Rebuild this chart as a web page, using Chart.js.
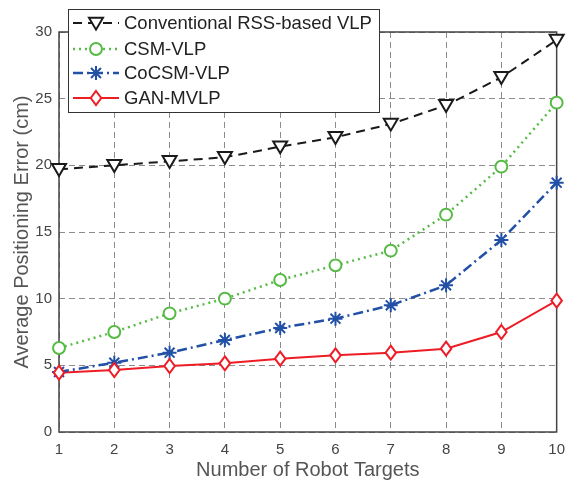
<!DOCTYPE html>
<html>
<head>
<meta charset="utf-8">
<script src="https://cdn.jsdelivr.net/npm/chart.js@4.4.1/dist/chart.umd.min.js"></script>
<style>
  html, body { margin: 0; padding: 0; background: #fff; }
  #wrap { width: 574px; height: 482px; position: relative; }
</style>
</head>
<body>
<div id="wrap"><canvas id="errChart"></canvas></div>
<script>
// Number of robot targets
const targets = [1, 2, 3, 4, 5, 6, 7, 8, 9, 10];
const yTicks = [0, 5, 10, 15, 20, 25, 30];

// Average positioning error (cm) per method
const rssVlp = [19.7, 20.0, 20.3, 20.6, 21.4, 22.1, 23.1, 24.5, 26.6, 29.4];
const csmVlp = [6.3, 7.5, 8.9, 10.0, 11.4, 12.5, 13.6, 16.3, 19.9, 24.7];
const cocsmVlp = [4.5, 5.2, 5.95, 6.9, 7.8, 8.5, 9.5, 11.0, 14.4, 18.7];
const ganMvlp = [4.45, 4.65, 4.95, 5.15, 5.5, 5.75, 5.95, 6.25, 7.5, 9.85];

const series = [
    { label: 'Conventional RSS-based VLP', data: rssVlp, color: '#1a1a1a', dash: [9, 6], width: 2, point: 'triangleDown' },
    { label: 'CSM-VLP', data: csmVlp, color: '#55bb44', dash: [2, 4], width: 2.5, point: 'circle' },
    { label: 'CoCSM-VLP', data: cocsmVlp, color: '#2150a6', dash: [10, 4, 2, 4], width: 2.5, point: 'star' },
    { label: 'GAN-MVLP', data: ganMvlp, color: '#ee1c25', dash: [], width: 2, point: 'rectRot' }
];

const fontFamily = '"Liberation Sans", Arial, sans-serif';

// draw one marker by hand (used by the datasets and the legend)
function drawMarker(ctx, type, x, y, r, color) {
    ctx.save();
    ctx.setLineDash([]);
    ctx.lineWidth = 2;
    ctx.strokeStyle = color;
    ctx.fillStyle = '#fff';
    ctx.beginPath();
    if (type === 'triangleDown') {
        ctx.moveTo(x - r, y - r * 0.75);
        ctx.lineTo(x + r, y - r * 0.75);
        ctx.lineTo(x, y + r * 0.95);
        ctx.closePath();
        ctx.fill();
        ctx.stroke();
    } else if (type === 'circle') {
        ctx.arc(x, y, r * 0.85, 0, Math.PI * 2);
        ctx.fill();
        ctx.stroke();
    } else if (type === 'rectRot') {
        ctx.moveTo(x, y - r);
        ctx.lineTo(x + r * 0.75, y);
        ctx.lineTo(x, y + r);
        ctx.lineTo(x - r * 0.75, y);
        ctx.closePath();
        ctx.fill();
        ctx.stroke();
    } else if (type === 'star') {
        for (let k = 0; k < 4; k++) {
            const a = k * Math.PI / 4;
            ctx.moveTo(x - Math.cos(a) * r, y - Math.sin(a) * r);
            ctx.lineTo(x + Math.cos(a) * r, y + Math.sin(a) * r);
        }
        ctx.stroke();
    }
    ctx.restore();
}

const markerPlugin = {
    id: 'markers',
    afterDatasetsDraw(chart) {
        const ctx = chart.ctx;
        chart.data.datasets.forEach((ds, i) => {
            const meta = chart.getDatasetMeta(i);
            meta.data.forEach(pt => {
                drawMarker(ctx, series[i].point, pt.x, pt.y, 7, series[i].color);
            });
        });
    }
};

const legendPlugin = {
    id: 'boxLegend',
    afterDraw(chart) {
        const ctx = chart.ctx;
        ctx.save();
        ctx.fillStyle = '#fff';
        ctx.fillRect(68, 9, 311, 103);
        ctx.strokeStyle = '#333';
        ctx.lineWidth = 1;
        ctx.strokeRect(68.5, 9.5, 311, 103);
        ctx.font = '18.5px ' + fontFamily;
        ctx.textBaseline = 'middle';
        const rows = [23, 49, 73, 98];
        series.forEach((s, i) => {
            const y = rows[i];
            ctx.strokeStyle = s.color;
            ctx.lineWidth = s.width;
            ctx.setLineDash(s.dash);
            ctx.beginPath();
            ctx.moveTo(73, y);
            ctx.lineTo(119, y);
            ctx.stroke();
            ctx.setLineDash([]);
            drawMarker(ctx, s.point, 96, y, 7, s.color);
            ctx.fillStyle = '#222';
            ctx.fillText(s.label, 124, y + 1);
        });
        ctx.restore();
    }
};

const frameColor = '#444';
const gridStyle = {
    color: '#8c8c8c',
    lineWidth: 1,
    tickLength: 0,
    drawTicks: false
};

new Chart(document.getElementById('errChart').getContext('2d'), {
    type: 'line',
    data: {
        datasets: series.map(s => ({
            label: s.label,
            data: s.data.map((v, i) => ({ x: targets[i], y: v })),
            borderColor: s.color,
            borderWidth: s.width,
            borderDash: s.dash,
            pointRadius: 0,
            fill: false,
            tension: 0
        }))
    },
    options: {
        responsive: true,
        maintainAspectRatio: false,
        animation: false,
        layout: { padding: { top: 32, right: 8, left: 0, bottom: 0 } },
        plugins: {
            legend: { display: false },
            tooltip: { enabled: false }
        },
        scales: {
            x: {
                type: 'linear',
                min: 1,
                max: 10,
                afterFit(scale) { scale.height = 50; },
                afterBuildTicks(scale) { scale.ticks = targets.map(v => ({ value: v })); },
                grid: gridStyle,
                border: { display: false, dash: [6, 4] },
                ticks: {
                    color: '#444',
                    padding: 9,
                    font: { size: 15, family: fontFamily }
                },
                title: {
                    display: true,
                    text: 'Number of Robot Targets',
                    color: '#555',
                    padding: { top: 0, bottom: 0 },
                    font: { size: 20, family: fontFamily }
                }
            },
            y: {
                min: 0,
                max: 30,
                afterFit(scale) { scale.width = 59; },
                afterBuildTicks(scale) { scale.ticks = yTicks.map(v => ({ value: v })); },
                grid: gridStyle,
                border: { display: false, dash: [6, 4] },
                ticks: {
                    color: '#444',
                    padding: 7,
                    font: { size: 15, family: fontFamily }
                },
                title: {
                    display: true,
                    text: 'Average Positioning Error (cm)',
                    color: '#555',
                    padding: { top: 10, bottom: 0 },
                    font: { size: 20, family: fontFamily }
                }
            }
        }
    },
    plugins: [{
        id: 'frame',
        beforeDatasetsDraw(chart) {
            // solid box round the plot area
            const { ctx, chartArea: a } = chart;
            ctx.save();
            ctx.strokeStyle = frameColor;
            ctx.lineWidth = 1.5;
            ctx.strokeRect(a.left, a.top, a.right - a.left, a.bottom - a.top);
            ctx.restore();
        }
    }, markerPlugin, legendPlugin]
});
</script>
</body>
</html>
